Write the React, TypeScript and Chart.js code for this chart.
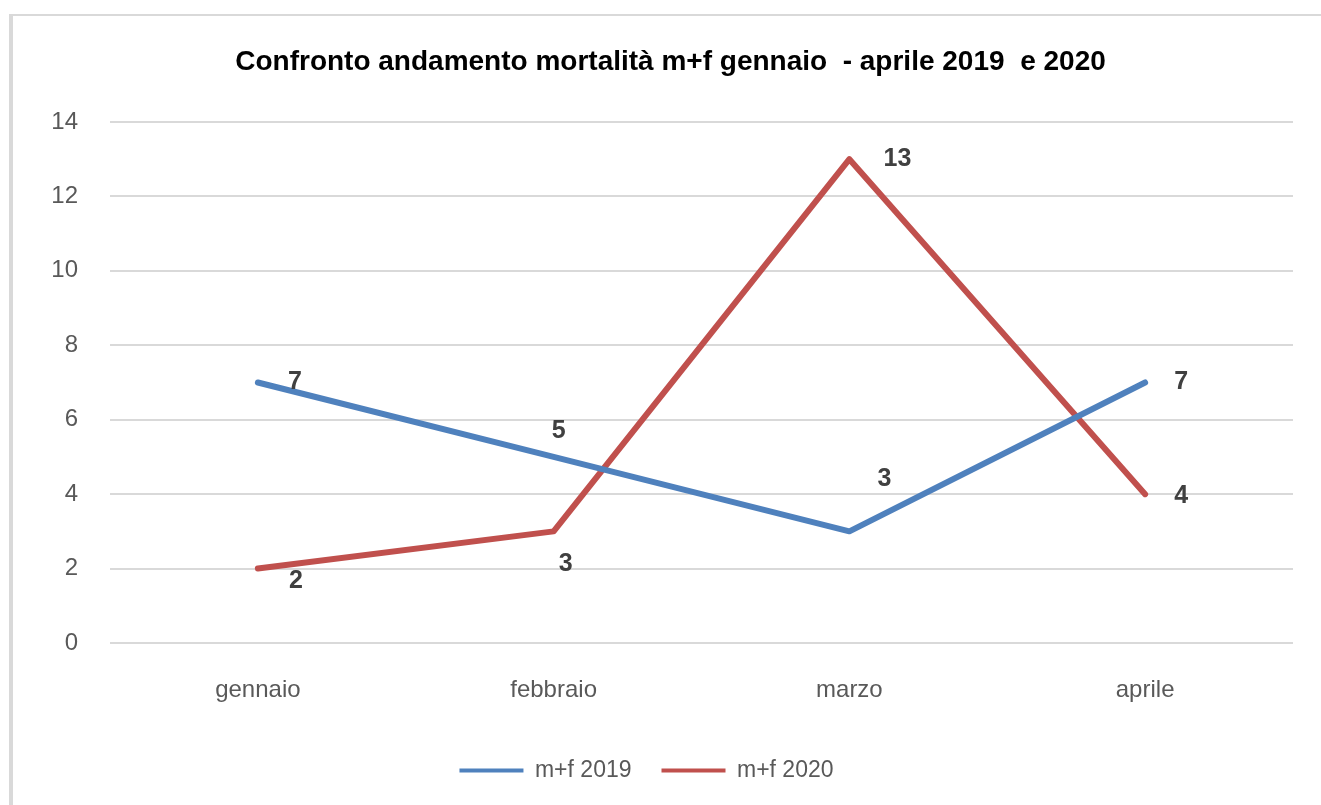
import React, { useEffect, useRef } from "react";
import { Chart, registerables } from "chart.js";

Chart.register(...registerables);

const categories = ["gennaio", "febbraio", "marzo", "aprile"];
const seriesNames = ["m+f 2019", "m+f 2020"];
const values2019 = [7, 5, 3, 7];
const values2020 = [2, 3, 13, 4];
const yTickValues = [0, 2, 4, 6, 8, 10, 12, 14];
const titleText = "Confronto andamento mortalità m+f gennaio  - aprile 2019  e 2020";

// label placement offsets (style only), relative to each point
const labelOffsets2019 = [[37, 0], [5, -26], [35, -52], [36, 0]];
const labelOffsets2020 = [[38, 13], [12, 33], [48, 0], [36, 2]];

const FONT = "'Liberation Sans', Arial, sans-serif";
const BLUE = "#4f81bd";
const RED = "#c0504d";

const decorPlugin = {
  id: "decor",
  afterLayout(chart: any) {
    const t = chart.titleBlock;
    if (t) {
      t.left += 24;
      t.right += 24;
    }
  },
  beforeDraw(chart: any) {
    const ctx = chart.ctx;
    ctx.save();
    ctx.fillStyle = "#d9d9d9";
    ctx.fillRect(9, 14, 4, chart.height - 14);
    ctx.fillRect(9, 14, chart.width - 9, 2);
    ctx.restore();
  },
};

const labelPlugin = {
  id: "pointValueLabels",
  afterDatasetsDraw(chart: any) {
    const ctx = chart.ctx;
    const offsets = [labelOffsets2019, labelOffsets2020];
    ctx.save();
    ctx.font = `bold 25px ${FONT}`;
    ctx.fillStyle = "#404040";
    ctx.textAlign = "center";
    ctx.textBaseline = "middle";
    chart.data.datasets.forEach((ds: any, i: number) => {
      const meta = chart.getDatasetMeta(i);
      meta.data.forEach((el: any, j: number) => {
        const o = offsets[i][j];
        ctx.fillText(String(ds.data[j]), el.x + o[0], el.y + o[1]);
      });
    });
    ctx.restore();
  },
};

export default function App() {
  const ref = useRef<HTMLCanvasElement | null>(null);

  useEffect(() => {
    if (!ref.current) return;
    Chart.defaults.font.family = FONT;
    const chart = new Chart(ref.current, {
      type: "line",
      data: {
        labels: categories,
        datasets: [
          {
            label: seriesNames[0],
            data: values2019,
            borderColor: BLUE,
            backgroundColor: BLUE,
            borderWidth: 6,
            pointRadius: 0,
            pointHoverRadius: 0,
            tension: 0,
            borderCapStyle: "round",
            borderJoinStyle: "round",
          },
          {
            label: seriesNames[1],
            data: values2020,
            borderColor: RED,
            backgroundColor: RED,
            borderWidth: 6,
            pointRadius: 0,
            pointHoverRadius: 0,
            tension: 0,
            borderCapStyle: "round",
            borderJoinStyle: "round",
          },
        ],
      },
      options: {
        animation: false,
        responsive: true,
        maintainAspectRatio: false,
        layout: { padding: { top: 20, left: 0, right: 28, bottom: 13 } },
        plugins: {
          title: {
            display: true,
            text: titleText,
            color: "#000000",
            font: { size: 28, weight: "bold", family: FONT },
            padding: { top: 25, bottom: 43.4 },
          },
          legend: {
            display: true,
            position: "bottom",
            labels: {
              boxWidth: 64,
              boxHeight: 4,
              padding: 30,
              color: "#595959",
              font: { size: 23, family: FONT },
              generateLabels: (c: any) =>
                Chart.defaults.plugins.legend.labels
                  .generateLabels(c)
                  .map((l: any) => ({ ...l, lineWidth: 0 })),
            },
          },
          tooltip: { enabled: false },
        },
        scales: {
          x: {
            type: "category",
            offset: true,
            grid: { display: false, drawTicks: false },
            border: { display: false },
            ticks: {
              color: "#595959",
              font: { size: 24, family: FONT },
              padding: 33,
              maxRotation: 0,
            },
            afterFit: (s: any) => {
              s.height = 86;
            },
          },
          y: {
            min: 0,
            max: 14,
            grid: { color: "#d9d9d9", lineWidth: 2, drawTicks: false },
            border: { display: false },
            ticks: {
              color: "#595959",
              font: { size: 24, family: FONT },
              padding: 32,
              stepSize: 2,
            },
            afterBuildTicks: (s: any) => {
              s.ticks = yTickValues.map((v) => ({ value: v }));
            },
            afterFit: (s: any) => {
              s.width = 110;
            },
          },
        },
      },
      plugins: [decorPlugin, labelPlugin],
    } as any);
    return () => chart.destroy();
  }, []);

  return (
    <div style={{ position: "absolute", left: 0, top: 0, width: 1321, height: 805 }}>
      <canvas ref={ref} />
    </div>
  );
}
